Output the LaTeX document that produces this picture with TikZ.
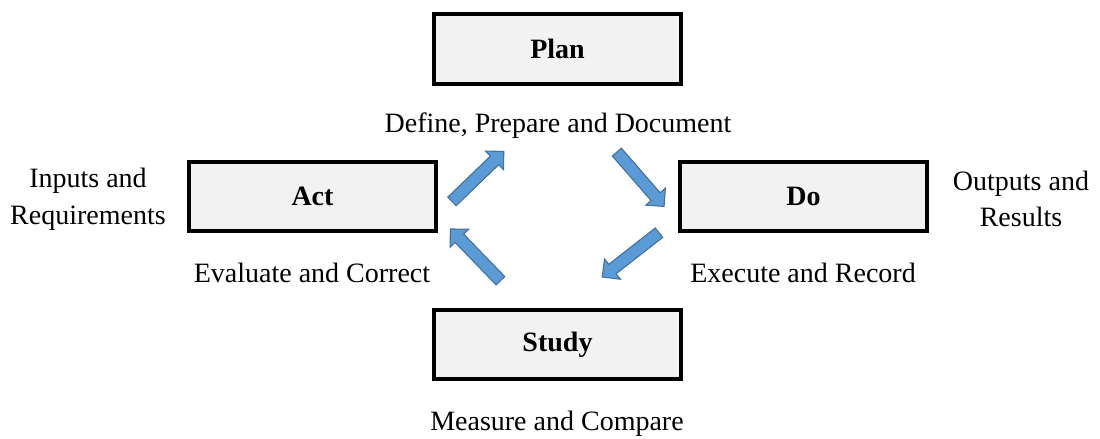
\documentclass[tikz,border=0pt]{standalone}
\usepackage{fontspec}
\setmainfont{Liberation Serif}
\usetikzlibrary{shapes.arrows}
\definecolor{boxfill}{HTML}{F2F2F2}
\definecolor{arrfill}{HTML}{5B9BD5}
\definecolor{arrline}{HTML}{41719C}
\tikzset{
  stagebox/.style={draw=black, line width=3pt, fill=boxfill, minimum width=185pt, minimum height=52pt, font=\fontsize{21}{24}\selectfont\bfseries},
  lbl/.style={font=\fontsize{21}{27.5}\selectfont, align=center, inner sep=0pt},
  blockarrow/.style={shape=single arrow, draw=arrline, line width=0.8pt, fill=arrfill, minimum height=54pt, minimum width=0pt, inner sep=4.1pt, single arrow head extend=5.2pt, single arrow tip angle=90, single arrow head indent=0pt}
}
\begin{document}
\begin{tikzpicture}[x=0.75pt,y=-0.75pt]
\useasboundingbox (0,0) rectangle (1100,439);
\node[stagebox] (plan) at (557.5,49) {Plan};
\node[stagebox] (act) at (312.5,196.5) {Act};
\node[stagebox] (do) at (803.5,196.5) {Do};
\node[stagebox] (study) at (557.5,344.5) {Study};
\node[lbl] (planl) at (558,126) {Define, Prepare and Document};
\node[lbl] (inl) at (88,199) {Inputs and\\Requirements};
\node[lbl] (outl) at (1021,199) {Outputs and\\Results};
\node[lbl] (actl) at (312,273) {Evaluate and Correct};
\node[lbl] (dol) at (803,273) {Execute and Record};
\node[lbl] (studyl) at (557,424) {Measure and Compare};
\node[blockarrow, rotate=44] (a1) at (475.75,178.5) {};
\node[blockarrow, rotate=-49] (a2) at (638.5,177) {};
\node[blockarrow, rotate=218] (a3) at (633,253) {};
\node[blockarrow, rotate=134] (a4) at (477.5,257) {};
\end{tikzpicture}
\end{document}
